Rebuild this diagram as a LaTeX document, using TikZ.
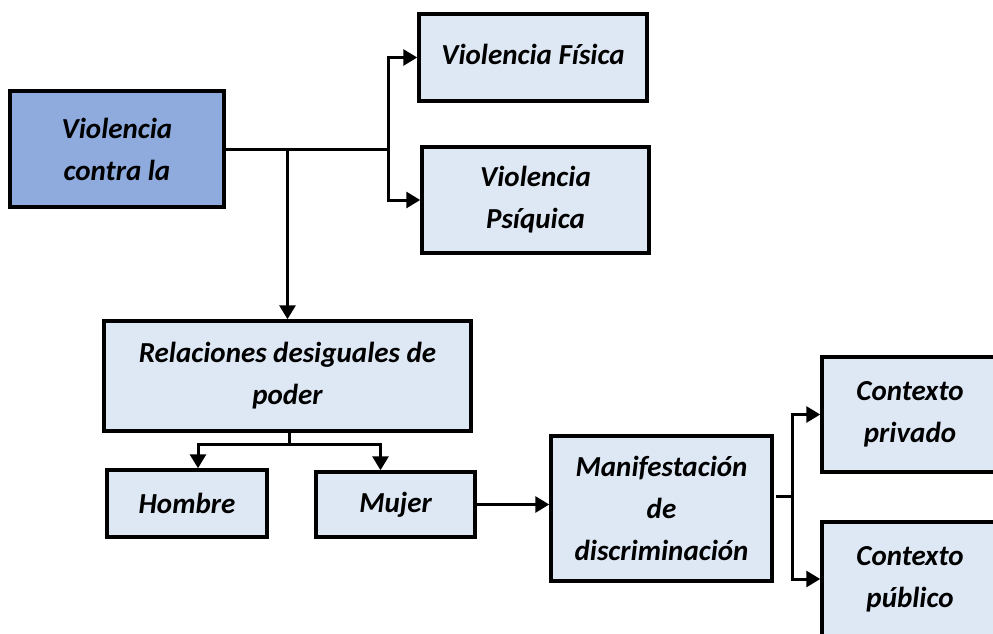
\documentclass[tikz,border=0pt]{standalone}
\usepackage{fontspec}
\setmainfont{Carlito}
\usetikzlibrary{arrows.meta}
\definecolor{mainblue}{HTML}{8FAADC}
\definecolor{lightblue}{HTML}{DEE8F5}
\begin{document}
\begin{tikzpicture}[x=1pt,y=-1pt,
  box/.style={draw=black, line width=3.5pt, fill=lightblue, align=center, inner sep=0pt,
    font=\fontsize{29}{42}\selectfont\bfseries\itshape},
  conn/.style={line width=3pt},
  arr/.style={conn, -{Triangle[length=14pt,width=16pt]}}]
\clip (0,0) rectangle (993,633);
\fill[white] (0,0) rectangle (993,633);
\node[box, fill=mainblue, minimum width=214pt, minimum height=116pt] (main) at (117,149) {Violencia\\contra la};
\node[box, minimum width=228pt, minimum height=87pt] (fis) at (533,57.5) {\raisebox{7pt}{Violencia Física}};
\node[box, minimum width=227pt, minimum height=106pt] (psi) at (535.5,200) {Violencia\\Psíquica};
\node[box, minimum width=367pt, minimum height=110pt] (rel) at (287.5,376) {Relaciones desiguales de\\poder};
\node[box, minimum width=160pt, minimum height=67pt] (hom) at (187,503.5) {Hombre};
\node[box, minimum width=159pt, minimum height=65pt] (muj) at (395.5,504.5) {Mujer};
\node[box, minimum width=221pt, minimum height=145pt] (man) at (661.5,508.5) {Manifestación\\de\\discriminación};
\node[box, minimum width=176pt, minimum height=115pt] (priv) at (910,414.5) {Contexto\\privado};
\node[box, minimum width=176pt, minimum height=114pt] (pub) at (910,579) {Contexto\\público};
% connectors
\coordinate (j1) at (388,149);
\draw[conn] (main.east) -- (j1);
\draw[arr] (j1) |- (fis.west);
\draw[arr] (j1) |- (psi.west);
\draw[arr] (rel.north |- main.east) -- (rel.north);
\coordinate (j2) at (289,444);
\draw[conn] (rel.south -| j2) -- (j2);
\draw[arr] (j2) -| ([xshift=11pt]hom.north);
\draw[arr] (j2) -| ([xshift=-15pt]muj.north);
\draw[arr] (muj.east) -- (muj.east -| man.west);
\coordinate (j3) at (792,496);
\draw[conn] (776,496) -- (j3);
\draw[arr] (j3) |- (priv.west);
\draw[arr] (j3) |- (pub.west);
\end{tikzpicture}
\end{document}
